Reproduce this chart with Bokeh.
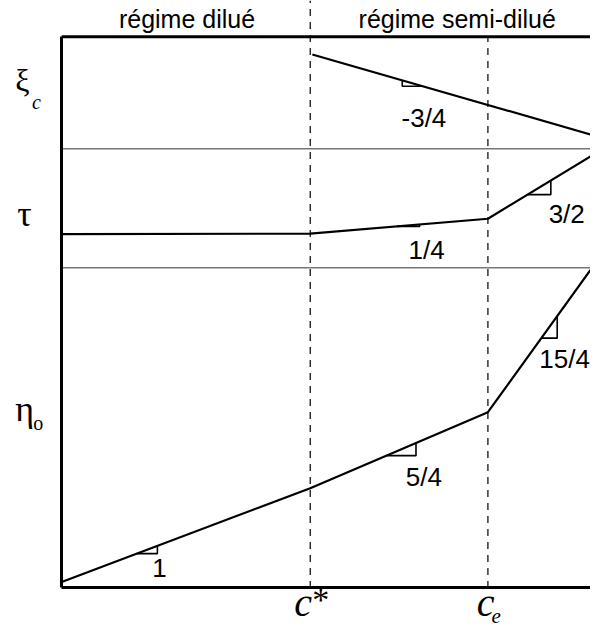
import numpy as np
from bokeh.plotting import figure
from bokeh.models import Range1d, FixedTicker
from bokeh.core.properties import value
from bokeh.embed import file_html
from bokeh.resources import INLINE

# ---- data (log concentration / log quantity, arbitrary units) ----
c_star = 47.0
c_e = 80.6
x_max = 100.0
band_edges = [58.1, 79.7]
y_top = 100.0

xi_x = [47.4, 100.0]
xi_y = [96.8, 82.3]
tau_x = [0.0, 47.0, 80.6, 100.0]
tau_y = [64.2, 64.3, 67.0, 78.3]
eta_x = [0.0, 47.0, 80.6, 100.0]
eta_y = [1.1, 18.1, 31.9, 57.7]

slope_labels = ["-3/4", "1/4", "3/2", "1", "5/4", "15/4"]
slope_series = ["xi", "tau", "tau", "eta", "eta", "eta"]
tri_x0 = [64.4, 63.4, 88.1, 14.2, 61.4, 90.7]
tri_x1 = [68.3, 67.7, 92.5, 18.1, 67.0, 93.7]

regime_names = ["régime dilué", "régime semi-dilué"]

# ---- layout positions (data units) ----
slope_lab_x = [68.5, 69.0, 95.5, 18.5, 68.5, 95.1]
slope_lab_y = [83.7, 59.7, 66.3, 2.0, 18.5, 40.0]
regime_lab_x = [23.7, 74.8]
regime_lab_y = [101.6, 101.6]

series = {"xi": (xi_x, xi_y), "tau": (tau_x, tau_y), "eta": (eta_x, eta_y)}

X0, X1 = -11.57, 100.0
Y0, Y1 = -7.35, 106.6
DY = -9  # text baseline correction, screen px

p = figure(width=590, height=628, output_backend="svg", toolbar_location=None,
           title=None, x_range=Range1d(X0, X1), y_range=Range1d(Y0, Y1),
           min_border=0, min_border_left=0, min_border_right=0,
           min_border_top=0, min_border_bottom=0)
p.outline_line_color = None
p.xgrid.visible = False
p.ygrid.visible = False
p.background_fill_color = "white"
p.border_fill_color = "white"
for ax in (p.xaxis[0], p.yaxis[0]):
    ax.ticker = FixedTicker(ticks=[])
    ax.major_tick_line_color = None
    ax.minor_tick_line_color = None
    ax.major_tick_out = 0
    ax.major_tick_in = 0
    ax.minor_tick_out = 0
    ax.minor_tick_in = 0
    ax.major_label_standoff = 0
    ax.major_label_text_font_size = "0px"
    ax.axis_line_width = 3
    ax.axis_line_color = "black"
    ax.fixed_location = 0
p.xaxis[0].bounds = (0, x_max)
p.yaxis[0].bounds = (0, y_top)

# top frame line
p.line([0, x_max], [y_top, y_top], line_color="black", line_width=3)
# band separators
p.segment(x0=[0] * len(band_edges), x1=[x_max] * len(band_edges), y0=band_edges, y1=band_edges,
          line_color="#777777", line_width=1.6)
# regime dividers
p.segment(x0=[c_star, c_e], x1=[c_star, c_e], y0=[0, 0], y1=[Y1, y_top],
          line_color="black", line_width=1.2, line_dash="7 6")

for name, (xs, ys) in series.items():
    p.line(xs, ys, line_color="black", line_width=2.2)

# slope triangles
tx, ty = [], []
for s, a, b in zip(slope_series, tri_x0, tri_x1):
    xs, ys = series[s]
    y1 = float(np.interp(a, xs, ys))
    y2 = float(np.interp(b, xs, ys))
    if y2 > y1:
        tx.append([a, b, b]); ty.append([y1, y1, y2])
    else:
        tx.append([a, a, b]); ty.append([y1, y2, y2])
p.multi_line(tx, ty, line_color="black", line_width=1.6)

p.text(x=slope_lab_x, y=slope_lab_y, text=slope_labels, text_font=value("Liberation Sans"),
       text_font_size="26px", text_align="center", text_baseline="alphabetic",
       text_color="black", y_offset=DY)
p.text(x=regime_lab_x, y=regime_lab_y, text=regime_names, text_font=value("Liberation Sans"),
       text_font_size="25px", text_align="center", text_baseline="alphabetic",
       text_color="black", y_offset=DY)

# quantity symbols (left) and concentration marks (bottom)
sym_text = ["ξ", "τ", "η"]
sym_x = [-8.8, -8.4, -8.8]
sym_y = [90.5, 66.3, 30.8]
sym_size = ["32px", "36px", "36px"]
p.text(x=sym_x, y=sym_y, text=sym_text, text_font=value("Liberation Serif"),
       text_font_size=sym_size, text_align="left", text_baseline="alphabetic",
       text_color="black", y_offset=DY)

sub_text = ["c", "o"]
sub_x = [-5.6, -5.4]
sub_y = [86.6, 28.3]
sub_style = ["italic", "normal"]
p.text(x=sub_x, y=sub_y, text=sub_text, text_font=value("Liberation Serif"),
       text_font_size="20px", text_font_style=sub_style, text_align="left",
       text_baseline="alphabetic", text_color="black", y_offset=DY)

conc_text = ["c", "c"]
conc_x = [44.0, 78.5]
conc_y = [-4.3, -4.3]
p.text(x=conc_x, y=conc_y, text=conc_text, text_font=value("Liberation Serif"),
       text_font_size="40px", text_font_style="italic", text_align="left",
       text_baseline="alphabetic", text_color="black", y_offset=DY)
p.text(x=[47.4], y=[-3.7], text=["*"], text_font=value("Liberation Serif"),
       text_font_size="34px", text_align="left", text_baseline="alphabetic",
       text_color="black", y_offset=DY)
p.text(x=[81.3], y=[-6.8], text=["e"], text_font=value("Liberation Serif"),
       text_font_size="21px", text_font_style="italic", text_align="left",
       text_baseline="alphabetic", text_color="black", y_offset=DY)

open("out.html", "w").write(file_html(p, INLINE))
